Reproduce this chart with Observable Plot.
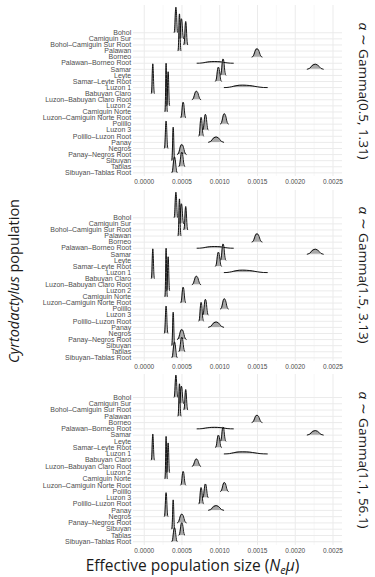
<!DOCTYPE html>
<html><head><meta charset="utf-8">
<script src="https://cdn.jsdelivr.net/npm/d3@7"></script>
<script src="https://cdn.jsdelivr.net/npm/@observablehq/plot@0.6"></script>
<style>
body{margin:0;background:#fff;}
#chart{position:relative;width:375px;height:577px;overflow:hidden;font-family:"Open Sans",sans-serif;background:#fff;}
.panel{position:absolute;left:0;}
.rot{position:absolute;white-space:nowrap;color:#1a1a1a;line-height:1;}
</style></head><body><div id="chart"></div>
<script>
// Populations, top to bottom
const populations = ["Bohol","Camiguin Sur","Bohol–Camiguin Sur Root","Palawan","Borneo","Palawan–Borneo Root","Samar","Leyte","Samar–Leyte Root","Luzon 1","Babuyan Claro","Luzon–Babuyan Claro Root","Luzon 2","Camiguin Norte","Luzon–Camiguin Norte Root","Polillo","Luzon 3","Polillo–Luzon Root","Panay","Negros","Panay–Negros Root","Sibuyan","Tablas","Sibuyan–Tablas Root"];
// Ridge peak location, left / right extent (Ne*mu) and peak height (in row units)
const peakX = [0.00042,0.000493,0.00055,0.000467,0.001494,0.00093,0.002265,0.001045,0.000983,0.0013,0.000114,0.000692,0.000317,0.00029,0.000516,0.001062,0.000811,0.000754,0.000952,0.00029,0.000498,0.000384,0.000498,0.000401];
const loX = [0.000399,0.000467,0.000528,0.000451,0.001428,0.0007,0.002159,0.001012,0.000946,0.00106,0.000097,0.000636,0.000301,0.000278,0.000486,0.001012,0.000777,0.000726,0.000852,0.00027,0.000441,0.000368,0.000461,0.000368];
const hiX = [0.000441,0.000519,0.000572,0.000483,0.00156,0.00118,0.002371,0.001078,0.00102,0.00163,0.000131,0.000748,0.000333,0.000302,0.000546,0.001112,0.000845,0.000782,0.001052,0.00031,0.000555,0.0004,0.000535,0.000434];
const ridgeHeight = [4.2,3.3,3.85,6.1,1.38,0.28,0.85,2.7,2.35,0.4,4.9,1.4,5.6,8.0,2.6,1.7,2.6,3.1,0.9,4.5,1.65,5.5,2.4,2.6];
const priorLabels = ["0.5, 1.31","1.5, 3.13","1.1, 56.1"];
const xTicks = [0,0.0005,0.001,0.0015,0.002,0.0025];
const xMinor = [0.00025,0.00075,0.00125,0.00175,0.00225];

const panelTop = [0, 184.5, 369];
const yTop = [27.48, 27.48, 26.67];
const hScale = [1, 1, 0.85];
const n = populations.length;
const rowIdx = d3.range(n);

const chart = document.getElementById("chart");

priorLabels.forEach((lab, p) => {
  const marks = [
    Plot.gridX(xMinor, {stroke:"#f2f2f2", strokeOpacity:1, strokeWidth:0.6}),
    Plot.gridX(xTicks, {stroke:"#ebebeb", strokeOpacity:1, strokeWidth:1}),
    Plot.gridY(rowIdx, {stroke:"#ebebeb", strokeOpacity:1, strokeWidth:1}),
    Plot.axisX(xTicks, {tickSize:0, tickPadding:3, fontSize:6.5, color:"#4d4d4d", tickFormat:d3.format(".4f"), label:null}),
    Plot.axisY(rowIdx, {tickSize:0, tickPadding:2.3, fontSize:7, color:"#4d4d4d", tickFormat:r => populations[n-1-r], label:null})
  ];
  populations.forEach((name, i) => {
    const base = n - 1 - i;
    const h = ridgeHeight[i] * hScale[p];
    const pts = [
      {x: loX[i], y1: base, y2: base},
      {x: peakX[i], y1: base, y2: base + h},
      {x: hiX[i], y1: base, y2: base}
    ];
    marks.push(Plot.areaY(pts, {x:"x", y1:"y1", y2:"y2", curve:"bump-x", fill:"#a9a9a9"}));
    marks.push(Plot.lineY(pts, {x:"x", y:"y2", curve:"bump-x", stroke:"#000", strokeWidth:0.9}));
  });
  const svg = Plot.plot({
    width: 375, height: 188,
    marginLeft: 133, marginRight: 33, marginTop: 5, marginBottom: 12,
    x: {domain: [-0.000142, 0.002626]},
    y: {domain: [-0.6, yTop[p]]},
    style: {fontFamily: "'Liberation Sans', Arial, sans-serif", background: "transparent"},
    marks
  });
  svg.classList.add("panel");
  svg.style.top = panelTop[p] + "px";
  chart.appendChild(svg);

  const t = document.createElement("div");
  t.className = "rot";
  t.style.fontSize = "13.5px";
  t.innerHTML = `<i>α</i> ∼ Gamma(${lab})`;
  t.style.left = "363px";
  t.style.top = (panelTop[p] + 5 + 171/2) + "px";
  t.style.transform = "translate(-50%,-50%) rotate(90deg)";
  chart.appendChild(t);
});

const yt = document.createElement("div");
yt.className = "rot";
yt.style.fontSize = "14.5px";
yt.innerHTML = "<i>Cyrtodactylus</i> population";
yt.style.left = "14px"; yt.style.top = "281px";
yt.style.transform = "translate(-50%,-50%) rotate(-90deg)";
chart.appendChild(yt);

const xt = document.createElement("div");
xt.className = "rot";
xt.style.fontSize = "15.5px";
xt.innerHTML = "Effective population size (<i>N<sub style='font-size:0.7em;vertical-align:-0.25em'>e</sub>μ</i>)";
xt.style.left = "192.5px"; xt.style.top = "567px";
xt.style.transform = "translate(-50%,-50%)";
chart.appendChild(xt);
</script></body></html>
